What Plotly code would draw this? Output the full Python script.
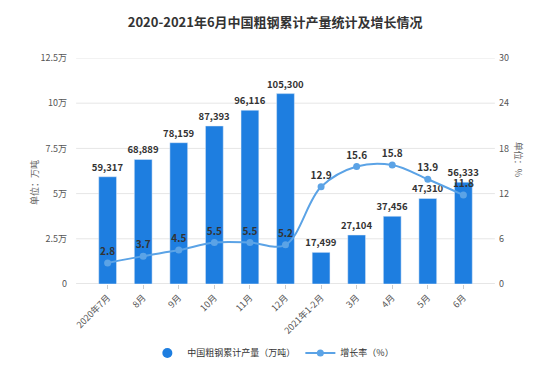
import plotly.graph_objects as go

categories = ["2020年7月", "8月", "9月", "10月", "11月", "12月", "2021年1-2月", "3月", "4月", "5月", "6月"]
output = [59317, 68889, 78159, 87393, 96116, 105300, 17499, 27104, 37456, 47310, 56333]
growth = [2.8, 3.7, 4.5, 5.5, 5.5, 5.2, 12.9, 15.6, 15.8, 13.9, 11.8]
left_ticks = [0, 25000, 50000, 75000, 100000, 125000]
left_labels = ["0", "2.5万", "5万", "7.5万", "10万", "12.5万"]
right_ticks = [0, 6, 12, 18, 24, 30]

font = "Noto Sans CJK SC"
bar_color = "#1e7ee0"
line_color = "#5ba3e6"
fig = go.Figure()
fig.add_trace(go.Bar(
    x=categories, y=output, name="中国粗钢累计产量（万吨）",
    marker=dict(color=bar_color), showlegend=False,
    text=[f"{v:,}" for v in output], textposition="outside",
    textfont=dict(size=9.5, color="#333333", family=font, weight="bold"),
    constraintext="none", cliponaxis=False,
))
fig.add_trace(go.Scatter(
    x=[None], y=[None], name="中国粗钢累计产量（万吨）", mode="markers",
    marker=dict(symbol="circle", size=10, color=bar_color),
))
fig.add_trace(go.Scatter(
    x=categories, y=growth, name="增长率（%）", yaxis="y2",
    mode="lines+markers+text",
    line=dict(color=line_color, width=2, shape="spline", smoothing=1),
    marker=dict(size=7, color=line_color),
    text=[str(v) for v in growth], textposition="top center",
    textfont=dict(size=10, color="#333333", family=font, weight="bold"),
    cliponaxis=False,
))

# grid lines that extend a little beyond the category band, as in the reference
shapes = []
for t in left_ticks:
    shapes.append(dict(type="line", xref="paper", yref="y", x0=-0.017, x1=1.017, y0=t, y1=t,
                       line=dict(color="#cccccc" if t == 0 else "#e6e6e6", width=1), layer="below"))

fig.update_layout(
    width=552, height=373,
    margin=dict(l=75, r=72, t=50, b=97, autoexpand=False),
    paper_bgcolor="white", plot_bgcolor="white",
    font=dict(family=font, size=9, color="#666666"),
    title=dict(text="<b>2020-2021年6月中国粗钢累计产量统计及增长情况</b>", x=0.484, xanchor="center",
               y=0.962, yanchor="middle", font=dict(size=13, color="#333333", family=font)),
    bargap=0.5,
    showlegend=True,
    legend=dict(orientation="h", x=0.47, xanchor="center", y=-0.305, yanchor="middle",
                itemwidth=30, font=dict(size=9, color="#333333", family=font)),
    xaxis=dict(tickangle=-45, showgrid=False, showline=False, automargin=False,
               ticks="outside", ticklen=4, tickcolor="#cccccc", tickfont=dict(size=9, color="#555555")),
    yaxis=dict(range=[0, 125000], tickvals=left_ticks, ticktext=left_labels, automargin=False,
               showgrid=False, zeroline=False, ticks="", ticklabelstandoff=15,
               tickfont=dict(size=9, color="#555555")),
    yaxis2=dict(range=[0, 30], tickvals=right_ticks, overlaying="y", side="right", automargin=False,
                showgrid=False, zeroline=False, ticks="", ticklabelstandoff=10,
                tickfont=dict(size=9, color="#555555")),
    shapes=shapes,
    annotations=[
        dict(text="单位：万吨", xref="paper", yref="paper", x=-0.14, y=0.45, textangle=-90,
             showarrow=False, font=dict(size=9, color="#666666", family=font)),
        dict(text="单位：%", xref="paper", yref="paper", x=1.095, y=0.55, textangle=90,
             showarrow=False, font=dict(size=9, color="#666666", family=font)),
    ],
)
fig.write_html("out.html")
